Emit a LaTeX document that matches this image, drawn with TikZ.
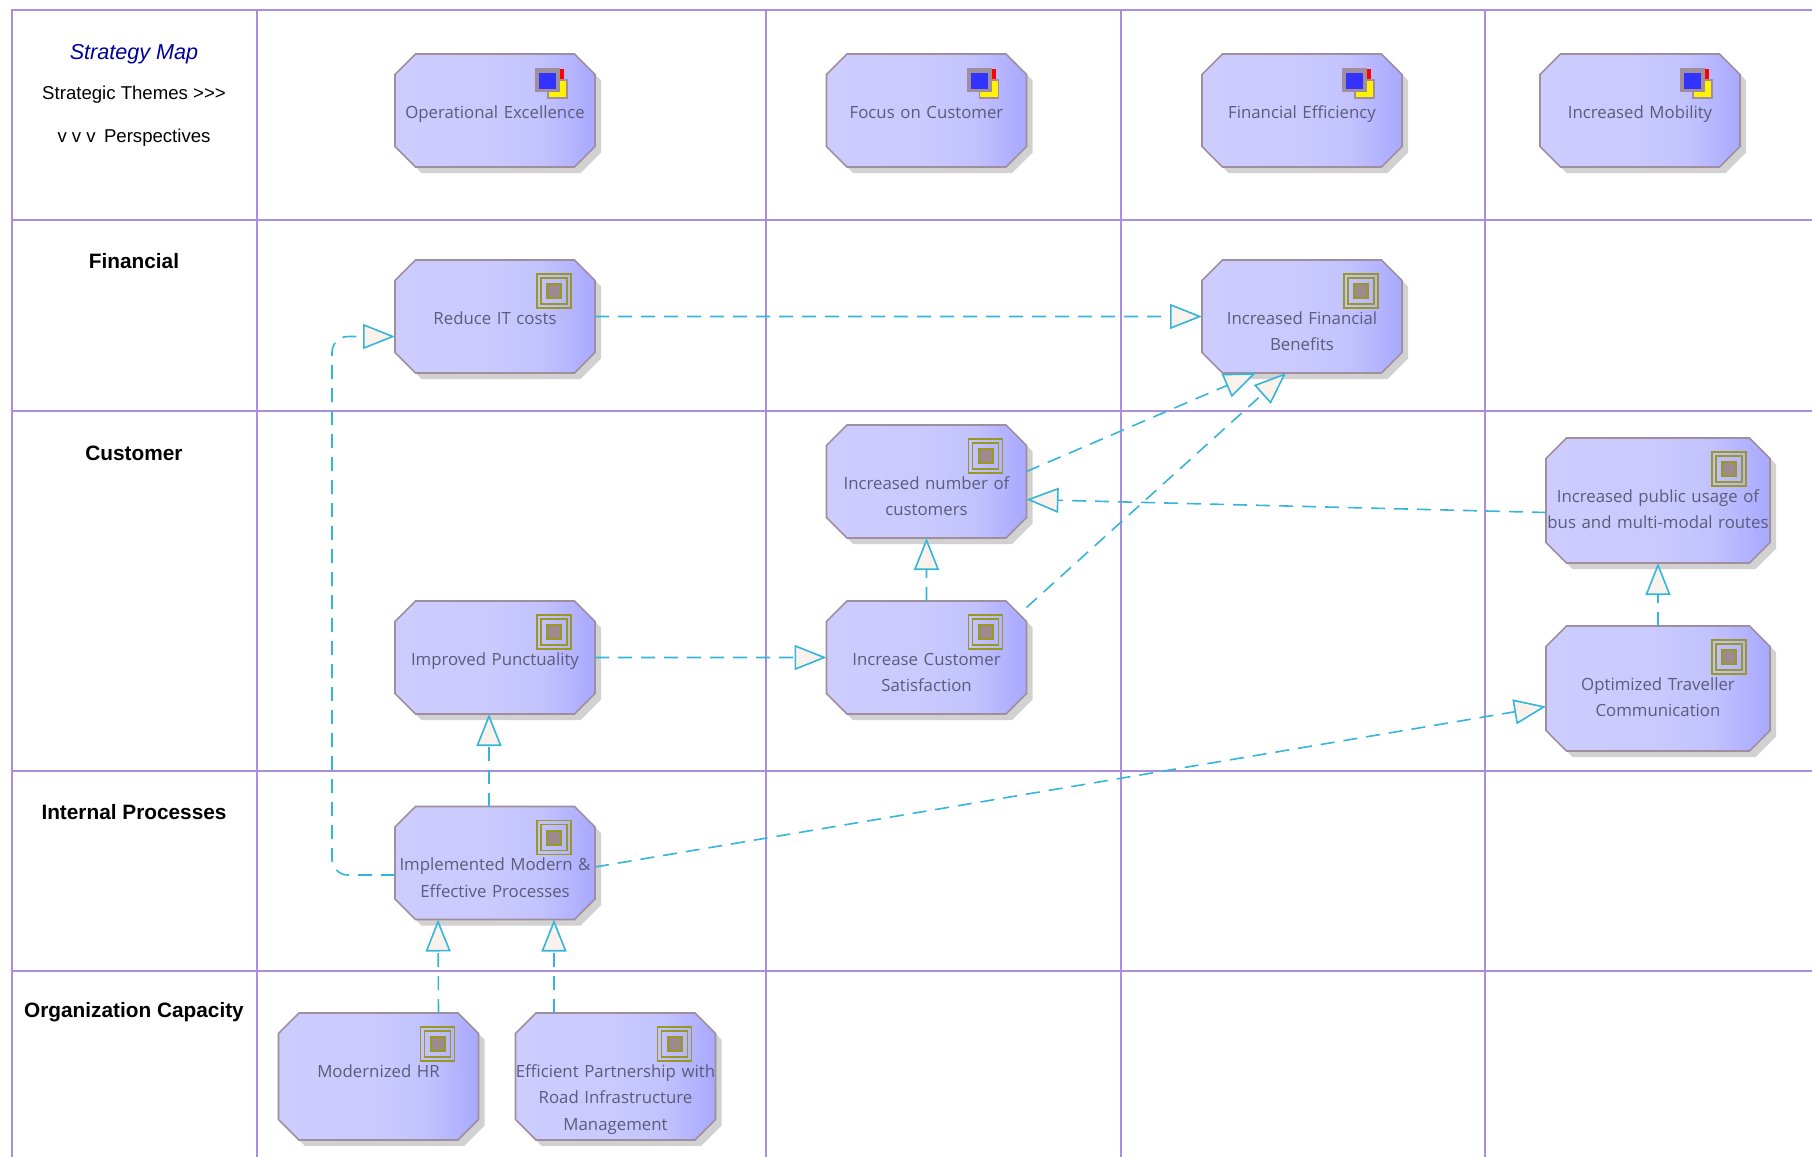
\documentclass[tikz,border=0pt]{standalone}
\usepackage{fontspec}
\setmainfont{Liberation Sans}
\newfontfamily\goalfont{Open Sans}
\usetikzlibrary{positioning,calc,arrows.meta,shapes.misc,shadows}
\definecolor{lanecolor}{HTML}{A98DDE}
\definecolor{goalborder}{HTML}{A08E9C}
\definecolor{goaltext}{HTML}{5C5C78}
\definecolor{linkcolor}{HTML}{35B5D8}
\definecolor{tipfill}{HTML}{F8F1EC}
\definecolor{iconolive}{HTML}{999922}
\definecolor{icongray}{HTML}{9C8A8C}
\pgfdeclarehorizontalshading{goalshade}{100bp}{color(0bp)=(white!80!blue); color(25bp)=(white!80!blue); color(50bp)=(white!79!blue); color(62bp)=(white!76!blue); color(75bp)=(white!66!blue); color(100bp)=(white!66!blue)}
\tikzset{
  lane/.style={draw=lanecolor,line width=0.8pt},
  lanelabel/.style={font=\fontsize{10.4pt}{12pt}\selectfont\bfseries,inner sep=0pt},
  legend/.style={font=\fontsize{9.3pt}{11pt}\selectfont,inner sep=0pt},
  goal/.style={chamfered rectangle,chamfered rectangle xsep=5pt,chamfered rectangle ysep=5.25pt,
    shading=goalshade,draw=goalborder,line width=0.8pt,inner xsep=-5pt,inner ysep=-5.25pt,outer sep=0pt,
    drop shadow={shadow xshift=3pt,shadow yshift=-3pt,fill=black!30,opacity=.6},
    text=goaltext,text width=100pt,text height=32pt,text depth=24.5pt,align=center,
    font=\goalfont\fontsize{8.4pt}{13.25pt}\selectfont},
  realize/.style={->,draw=linkcolor,line width=0.8pt,dash pattern=on 7pt off 4.5pt},
  themeicon/.pic={
    \fill[red] (-8,-14) rectangle (13,0);
    \fill[yellow,draw=goalborder,line width=0.8pt] (-3,-3) rectangle (16,15);
    \fill[goalborder] (-16,-15) rectangle (9,9);
    \fill[blue!80!white] (-12,-10) rectangle (5,6);
  },
  goalicon/.pic={
    \draw[iconolive,line width=0.7pt] (-17,-17) rectangle (17,17);
    \draw[iconolive,line width=0.7pt] (-13,-13) rectangle (13,13);
    \fill[icongray,draw=iconolive,line width=1pt] (-7,-7) rectangle (7,7);
  }
}
\begin{document}
\begin{tikzpicture}[x=0.5pt,y=-0.5pt,on grid]
\tikzset{>={Triangle[length=16pt,width=12.5pt,fill=tipfill]}}
\useasboundingbox (0,0) rectangle (1812,1157);
% swimlanes
\draw[lane] (12,1157) -- (12,10) -- (1812,10);
\draw[lane] (12,220) -- (1812,220);
\draw[lane] (12,411) -- (1812,411);
\draw[lane] (12,771) -- (1812,771);
\draw[lane] (12,971) -- (1812,971);
\draw[lane] (257,10) -- (257,1157);
\draw[lane] (766,10) -- (766,1157);
\draw[lane] (1121,10) -- (1121,1157);
\draw[lane] (1485,10) -- (1485,1157);
% left column
\node[legend,font=\fontsize{10.8pt}{12pt}\selectfont\itshape,text=blue!60!black] (title) at (134,54) {Strategy Map};
\node[legend] (themes) [below=20.5pt of title] {Strategic Themes >{}>{}>};
\node[legend] (persp) [below=21.5pt of themes] {v v v\, Perspectives};
\node[lanelabel] (financial) at (134,261) {Financial};
\node[lanelabel] (customer) [below=96pt of financial] {Customer};
\node[lanelabel] (internal) [below=179.5pt of customer] {Internal Processes};
\node[lanelabel] (orgcap) [below=100pt of internal] {Organization Capacity};
% themes
\node[goal] (opex) at (495,110.5) {Operational Excellence};
\node[goal] (focus) [right=215.75pt of opex] {Focus on Customer};
\node[goal] (fineff) [right=187.75pt of focus] {Financial Efficiency};
\node[goal] (mobility) [right=169pt of fineff] {Increased Mobility};
% goals
\node[goal] (reduce) [below=103pt of opex] {Reduce IT costs};
\node[goal] (incfin) [below=103pt of fineff] {Increased Financial\\Benefits};
\node[goal] (number) [below=185.5pt of focus] {Increased number of\\customers};
\node[goal] (increase) [below=88pt of number] {Increase Customer\\Satisfaction};
\node[goal] (improved) [left=215.75pt of increase] {Improved Punctuality};
\node[goal] (impl) [below=102.75pt of improved] {Implemented Modern \&\\Effective Processes};
\node[goal,text depth=31.5pt] (modern) [below left=106.75pt and 58.25pt of impl] {Modernized HR};
\node[goal,text depth=31.5pt] (efficient) [right=118.5pt of modern] {Efficient Partnership with\\Road Infrastructure\\Management};
\node[goal,text width=112pt,text depth=30.5pt] (public) [below right=9.5pt and 365.75pt of number] {Increased public usage of\\bus and multi-modal routes};
\node[goal,text width=112pt,text depth=30.5pt] (optimized) [below=94pt of public] {Optimized Traveller\\Communication};
% icons
\pic at ([shift={(-44,29)}]opex.north -| opex.east) {themeicon};
\pic at ([shift={(-44,29)}]focus.north -| focus.east) {themeicon};
\pic at ([shift={(-44,29)}]fineff.north -| fineff.east) {themeicon};
\pic at ([shift={(-44,29)}]mobility.north -| mobility.east) {themeicon};
\pic at ([shift={(-41,31)}]reduce.north -| reduce.east) {goalicon};
\pic at ([shift={(-41,31)}]incfin.north -| incfin.east) {goalicon};
\pic at ([shift={(-41,31)}]number.north -| number.east) {goalicon};
\pic at ([shift={(-41,31)}]increase.north -| increase.east) {goalicon};
\pic at ([shift={(-41,31)}]improved.north -| improved.east) {goalicon};
\pic at ([shift={(-41,31)}]impl.north -| impl.east) {goalicon};
\pic at ([shift={(-41,31)}]modern.north -| modern.east) {goalicon};
\pic at ([shift={(-41,31)}]efficient.north -| efficient.east) {goalicon};
\pic at ([shift={(-41,31)}]public.north -| public.east) {goalicon};
\pic at ([shift={(-41,31)}]optimized.north -| optimized.east) {goalicon};
% links
\draw[realize] (reduce) -- (incfin);
\draw[realize] (improved) -- (increase);
\draw[realize] (increase) -- (number);
\draw[realize] (optimized) -- (public);
\draw[realize] ([xshift=-3pt]impl.north) -- ([xshift=-3pt]improved.south);
\draw[realize] ([xshift=30pt]modern.north) -- ([xshift=-28.5pt]impl.south);
\draw[realize] ([xshift=-30.75pt]efficient.north) -- ([xshift=29.5pt]impl.south);
\draw[realize] ([yshift=-2pt]impl.east) -- ([yshift=-9pt]optimized.west);
\draw[realize] ([yshift=5pt]number.east) -- ([xshift=-23pt]incfin.south);
\draw[realize] ([yshift=25pt]increase.east) -- ([xshift=-8pt]incfin.south);
\draw[realize] ([yshift=-6pt]public.west) -- ([yshift=-9pt]number.east);
\draw[realize,rounded corners=8pt] ([yshift=-6pt]impl.west) -- ++(-31.5pt,0pt) |- ([yshift=-10pt]reduce.west);
\end{tikzpicture}
\end{document}
